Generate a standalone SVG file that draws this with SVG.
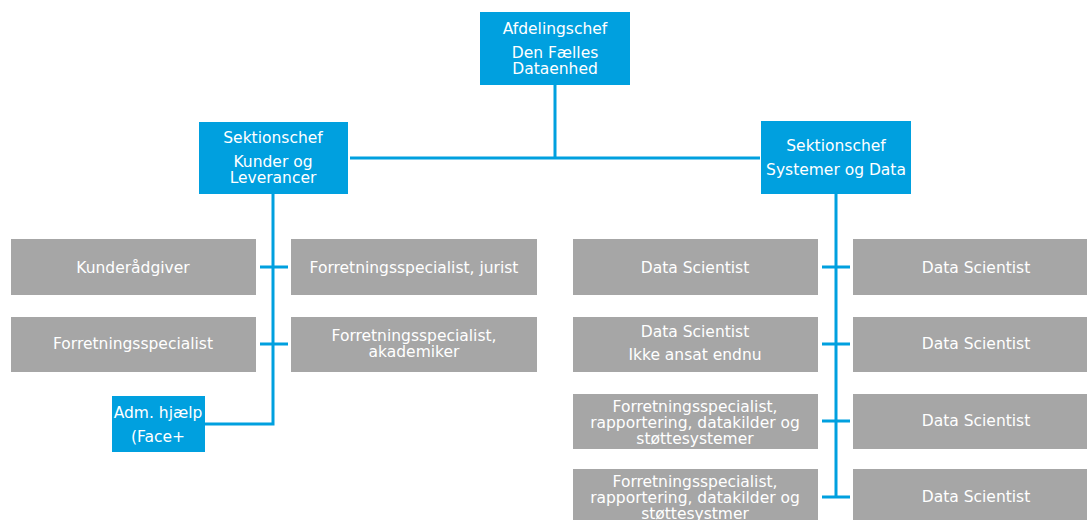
<svg xmlns="http://www.w3.org/2000/svg" width="1087" height="520" viewBox="0 0 1087 520">
<style>
.blue{fill:#00A0DF}
.gray{fill:#A6A6A6}
.t{fill:#ffffff;font-family:"DejaVu Sans",Verdana,sans-serif;font-size:15.5px;text-anchor:middle}
.ln{stroke:#00A0DF;stroke-width:3;fill:none}
</style>
<rect width="1087" height="520" fill="#ffffff"/>
<g id="connectors">
<path class="ln" d="M555 85V158M350 158H760"/>
<path class="ln" d="M273 194V424H205"/>
<path class="ln" d="M260 267H288M260 344H288"/>
<path class="ln" d="M836 194V497"/>
<path class="ln" d="M822 267H850M822 344H850M822 421H850M822 497H850"/>
</g>
<g id="afdelingschef"><rect class="blue" x="480" y="12" width="150" height="73"/>
<text class="t" x="555" y="34">Afdelingschef</text><text class="t" x="555" y="58">Den Fælles</text><text class="t" x="555" y="74">Dataenhed</text></g>
<g id="sektion-kunder"><rect class="blue" x="199" y="122" width="149" height="72"/>
<text class="t" x="273" y="143">Sektionschef</text><text class="t" x="273" y="167">Kunder og</text><text class="t" x="273" y="183">Leverancer</text></g>
<g id="sektion-systemer"><rect class="blue" x="761" y="121" width="150" height="73"/>
<text class="t" x="836" y="151">Sektionschef</text><text class="t" x="836" y="175">Systemer og Data</text></g>
<g id="adm"><rect class="blue" x="112" y="396" width="93" height="56"/>
<text class="t" x="158" y="418">Adm. hjælp</text><text class="t" x="158" y="442">(Face+</text></g>
<g id="kunderaadgiver"><rect class="gray" x="11" y="239" width="245" height="56"/><text class="t" x="133" y="273">Kunderådgiver</text></g>
<g id="fs-jurist"><rect class="gray" x="291" y="239" width="246" height="56"/><text class="t" x="414" y="273">Forretningsspecialist, jurist</text></g>
<g id="fs"><rect class="gray" x="11" y="317" width="245" height="55"/><text class="t" x="133" y="349">Forretningsspecialist</text></g>
<g id="fs-akademiker"><rect class="gray" x="291" y="317" width="246" height="55"/><text class="t" x="414" y="341">Forretningsspecialist,</text><text class="t" x="414" y="357">akademiker</text></g>
<g id="ds-l1"><rect class="gray" x="573" y="239" width="245" height="56"/><text class="t" x="695" y="273">Data Scientist</text></g>
<g id="ds-l2"><rect class="gray" x="573" y="317" width="245" height="55"/><text class="t" x="695" y="337">Data Scientist</text><text class="t" x="695" y="360">Ikke ansat endnu</text></g>
<g id="fs-rap1"><rect class="gray" x="573" y="394" width="245" height="55"/><text class="t" x="695" y="412">Forretningsspecialist,</text><text class="t" x="695" y="428">rapportering, datakilder og</text><text class="t" x="695" y="444">støttesystemer</text></g>
<g id="fs-rap2"><rect class="gray" x="573" y="469" width="245" height="60"/><text class="t" x="695" y="487">Forretningsspecialist,</text><text class="t" x="695" y="503">rapportering, datakilder og</text><text class="t" x="695" y="519">støttesystmer</text></g>
<g id="ds-r1"><rect class="gray" x="853" y="239" width="240" height="56"/><text class="t" x="976" y="273">Data Scientist</text></g>
<g id="ds-r2"><rect class="gray" x="853" y="317" width="240" height="55"/><text class="t" x="976" y="349">Data Scientist</text></g>
<g id="ds-r3"><rect class="gray" x="853" y="394" width="240" height="55"/><text class="t" x="976" y="426">Data Scientist</text></g>
<g id="ds-r4"><rect class="gray" x="853" y="469" width="240" height="60"/><text class="t" x="976" y="502">Data Scientist</text></g>
</svg>
